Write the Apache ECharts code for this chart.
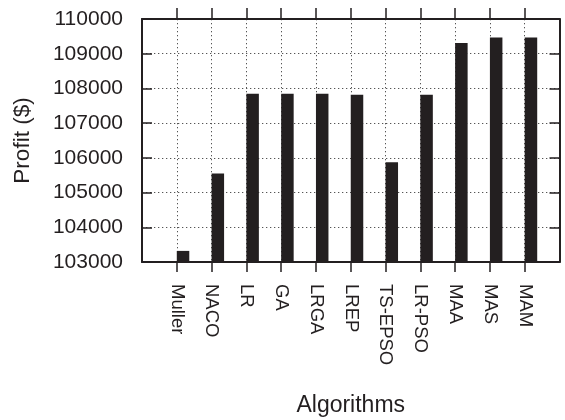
<!DOCTYPE html>
<html>
<head>
<meta charset="utf-8">
<script src="https://cdn.jsdelivr.net/npm/echarts@6/dist/echarts.min.js"></script>
<style>html,body{margin:0;padding:0;background:#fff;}#c{width:565px;height:420px;}</style>
</head>
<body>
<div id="c"></div>
<script>
var categories = ['Muller', 'NACO', 'LR', 'GA', 'LRGA', 'LREP', 'TS-EPSO', 'LR-PSO', 'MAA', 'MAS', 'MAM'];
var profit = [103320, 105550, 107850, 107850, 107850, 107820, 105870, 107820, 109310, 109470, 109470];
var yTicks = [103000, 104000, 105000, 106000, 107000, 108000, 109000, 110000];

var ink = '#231f20';
var font = "'Liberation Sans', Arial, Helvetica, sans-serif";
// pad one empty slot on each side so ticks sit inside the frame
var axisCats = [''].concat(categories, ['']);
var last = axisCats.length - 1;
var barData = ['-'].concat(profit, ['-']);
var emptyData = axisCats.map(function () { return '-'; });
var inner = function (i) { return i > 0 && i < last; };

var chart = echarts.init(document.getElementById('c'), null, { renderer: 'canvas' });
chart.setOption({
  animation: false,
  backgroundColor: '#fff',
  grid: { left: 142, right: 5.5, top: 19, bottom: 158, containLabel: false, outerBoundsMode: 'none' },
  xAxis: [{
    type: 'category',
    data: axisCats,
    boundaryGap: false,
    position: 'bottom',
    axisLine: { show: true, lineStyle: { color: ink, width: 2 } },
    axisTick: { show: true, inside: false, length: 10, interval: inner, lineStyle: { color: ink, width: 1.5 } },
    axisLabel: { show: true, interval: 0, rotate: -90, margin: 22, fontSize: 18.5, color: ink, fontFamily: font },
    splitLine: { show: true, interval: inner, lineStyle: { color: '#555', width: 1, type: [1.3, 2.7] } },
    name: 'Algorithms',
    nameLocation: 'middle',
    nameGap: 132,
    nameTextStyle: { fontSize: 23, color: ink, fontFamily: font }
  }, {
    type: 'category',
    data: axisCats,
    boundaryGap: false,
    position: 'top',
    axisLine: { show: true, lineStyle: { color: ink, width: 2 } },
    axisTick: { show: true, inside: false, length: 11, interval: inner, lineStyle: { color: ink, width: 1.5 } },
    axisLabel: { show: false },
    splitLine: { show: false }
  }],
  yAxis: [{
    type: 'value',
    min: yTicks[0],
    max: yTicks[yTicks.length - 1],
    interval: 1000,
    position: 'left',
    axisLine: { show: true, lineStyle: { color: ink, width: 2 } },
    axisTick: { show: true, inside: true, length: 10, lineStyle: { color: ink, width: 1.5 } },
    axisLabel: { show: true, margin: 19, fontSize: 21, color: ink, fontFamily: font,
      formatter: function (v) { return String(v); } },
    splitLine: { show: true, lineStyle: { color: '#555', width: 1, type: [1.3, 2.7] } },
    name: 'Profit ($)',
    nameLocation: 'middle',
    nameGap: 108,
    nameTextStyle: { fontSize: 22.5, color: ink, fontFamily: font }
  }, {
    type: 'value',
    min: yTicks[0],
    max: yTicks[yTicks.length - 1],
    interval: 1000,
    position: 'right',
    axisLine: { show: true, lineStyle: { color: ink, width: 2 } },
    axisTick: { show: true, inside: true, length: 10, lineStyle: { color: ink, width: 1.5 } },
    axisLabel: { show: false },
    splitLine: { show: false }
  }],
  series: [{
    type: 'bar',
    xAxisIndex: 0,
    yAxisIndex: 0,
    data: emptyData,
    barWidth: 12.5,
    barGap: '0%',
    itemStyle: { color: 'rgba(0,0,0,0)' },
    silent: true
  }, {
    type: 'bar',
    xAxisIndex: 0,
    yAxisIndex: 0,
    data: barData,
    barWidth: 12.5,
    barGap: '0%',
    itemStyle: { color: ink },
    z: 3
  }]
});
</script>
</body>
</html>
